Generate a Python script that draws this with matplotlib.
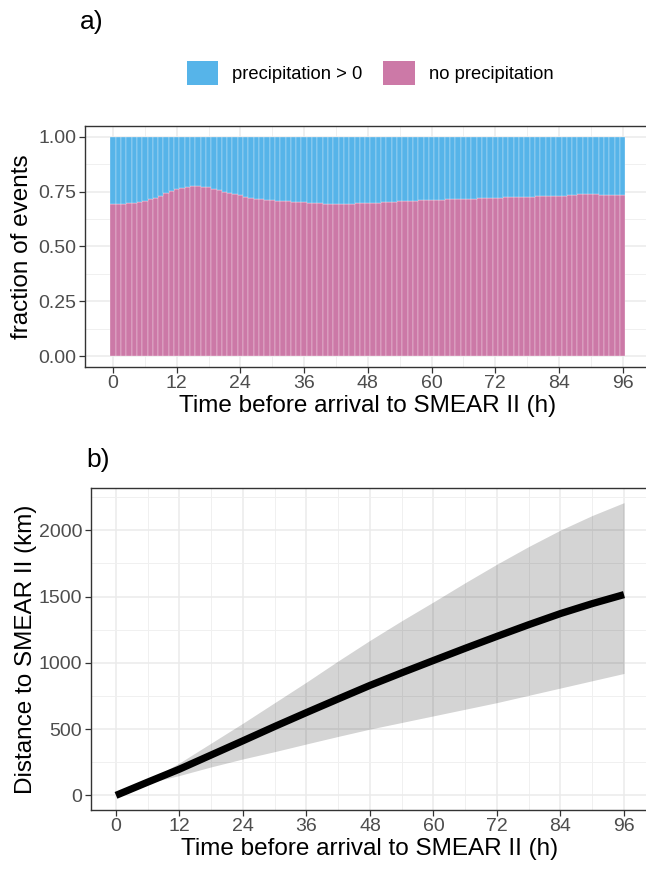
import matplotlib
matplotlib.use("Agg")
import matplotlib.pyplot as plt
from matplotlib.patches import Patch
import numpy as np

plt.rcParams['font.family'] = ['Liberation Sans', 'DejaVu Sans']

# ---------------- data ----------------
hours = list(range(0, 97))
no_precip = [0.693, 0.693, 0.693, 0.697, 0.700, 0.703, 0.708, 0.715, 0.722, 0.730,
             0.742, 0.752, 0.762, 0.768, 0.772, 0.774, 0.774, 0.773, 0.770, 0.764,
             0.758, 0.750, 0.744, 0.738, 0.733, 0.728, 0.723, 0.719, 0.715, 0.712,
             0.710, 0.709, 0.708, 0.707, 0.705, 0.704, 0.702, 0.700, 0.699, 0.697,
             0.696, 0.695, 0.695, 0.695, 0.696, 0.696, 0.697, 0.697, 0.698, 0.699,
             0.700, 0.702, 0.703, 0.705, 0.706, 0.707, 0.708, 0.709, 0.710, 0.711,
             0.712, 0.713, 0.714, 0.715, 0.716, 0.717, 0.718, 0.718, 0.719, 0.720,
             0.721, 0.722, 0.722, 0.723, 0.724, 0.725, 0.726, 0.727, 0.727, 0.728,
             0.729, 0.730, 0.730, 0.731, 0.732, 0.732, 0.734, 0.736, 0.738, 0.740,
             0.739, 0.738, 0.737, 0.737, 0.736, 0.736, 0.736]
precip = [1.0 - v for v in no_precip]

dist_hours = [0, 6, 12, 18, 24, 30, 36, 42, 48, 54, 60, 66, 72, 78, 84, 90, 96]
dist_median = [0, 100, 198, 305, 412, 520, 625, 728, 830, 925, 1018, 1110, 1200, 1288, 1372, 1447, 1515]
dist_upper = [0, 110, 245, 395, 545, 700, 855, 1015, 1170, 1318, 1460, 1605, 1745, 1878, 2002, 2112, 2209]
dist_lower = [0, 92, 150, 215, 275, 330, 388, 445, 500, 550, 600, 650, 700, 755, 810, 865, 920]

x_ticks = [0, 12, 24, 36, 48, 60, 72, 84, 96]
ya_ticks = [0.0, 0.25, 0.5, 0.75, 1.0]
ya_labels = ["0.00", "0.25", "0.50", "0.75", "1.00"]
yb_ticks = [0, 500, 1000, 1500, 2000]

col_precip = "#56B4E9"
col_noprecip = "#CC79A7"

# ---------------- figure ----------------
W, H = 646, 871
fig = plt.figure(figsize=(W / 100, H / 100), dpi=100)

def px_axes(left, top, right, bottom):
    return fig.add_axes([left / W, 1 - bottom / H, (right - left) / W, (bottom - top) / H])

axis_title_size = 17.5
tick_size = 14
border_col = "#333333"
grid_major = "#EBEBEB"
grid_minor = "#F0F0F0"

def style(ax):
    ax.set_facecolor("white")
    for s in ax.spines.values():
        s.set_color(border_col)
        s.set_linewidth(1.0)
    ax.tick_params(axis="both", which="major", length=4, width=0.9, color=border_col,
                   labelsize=tick_size, labelcolor="#4D4D4D", pad=2)
    ax.tick_params(axis="both", which="minor", length=0)
    ax.grid(True, which="major", color=grid_major, linewidth=1.1)
    ax.grid(True, which="minor", color=grid_minor, linewidth=0.7)
    ax.set_axisbelow(True)

# Panel a
ax1 = px_axes(84.6, 126, 651, 367)
ax1.bar(hours, no_precip, width=1.0, color=col_noprecip, edgecolor=(1, 1, 1, 0.6),
        linewidth=0.35, zorder=2)
ax1.bar(hours, precip, bottom=no_precip, width=1.0, color=col_precip,
        edgecolor=(1, 1, 1, 0.6), linewidth=0.35, zorder=2)
ax1.set_xlim(-5.35, 101.35)
ax1.set_ylim(-0.05, 1.05)
ax1.set_xticks(x_ticks)
ax1.set_xticks([6, 18, 30, 42, 54, 66, 78, 90], minor=True)
ax1.set_yticks(ya_ticks)
ax1.set_yticklabels(ya_labels)
ax1.set_yticks([0.125, 0.375, 0.625, 0.875], minor=True)
style(ax1)
ax1.set_xlabel("Time before arrival to SMEAR II (h)", fontsize=axis_title_size, labelpad=2)
ax1.set_ylabel("fraction of events", fontsize=axis_title_size, labelpad=4)

handles = [Patch(facecolor=col_precip, edgecolor="none", label="precipitation > 0"),
           Patch(facecolor=col_noprecip, edgecolor="none", label="no precipitation")]
fig.legend(handles=handles, loc="center", bbox_to_anchor=(370 / W, 1 - 73 / H),
           ncol=2, frameon=False, fontsize=13.2, handlelength=1.7, handleheight=1.6,
           columnspacing=1.15, handletextpad=0.77)

fig.text(80 / W, 1 - 22 / H, "a)", fontsize=19, va="center", ha="left")

# Panel b
ax2 = px_axes(90.6, 488, 649.4, 810)
ax2.fill_between(dist_hours, dist_lower, dist_upper, color="black", alpha=0.17,
                 linewidth=0, zorder=2)
ax2.plot(dist_hours, dist_median, color="black", linewidth=5.2, solid_capstyle="butt",
         solid_joinstyle="round", zorder=3)
ax2.set_xlim(-4.8, 100.8)
ax2.set_ylim(-110.45, 2319.45)
ax2.set_xticks(x_ticks)
ax2.set_xticks([6, 18, 30, 42, 54, 66, 78, 90], minor=True)
ax2.set_yticks(yb_ticks)
ax2.set_yticks([250, 750, 1250, 1750, 2250], minor=True)
style(ax2)
ax2.set_xlabel("Time before arrival to SMEAR II (h)", fontsize=axis_title_size, labelpad=2)
ax2.set_ylabel("Distance to SMEAR II (km)", fontsize=axis_title_size, labelpad=1)

fig.text(86 / W, 1 - 460 / H, "b)", fontsize=19, va="center", ha="left")

fig.savefig("out.png", dpi=100, facecolor="white")
